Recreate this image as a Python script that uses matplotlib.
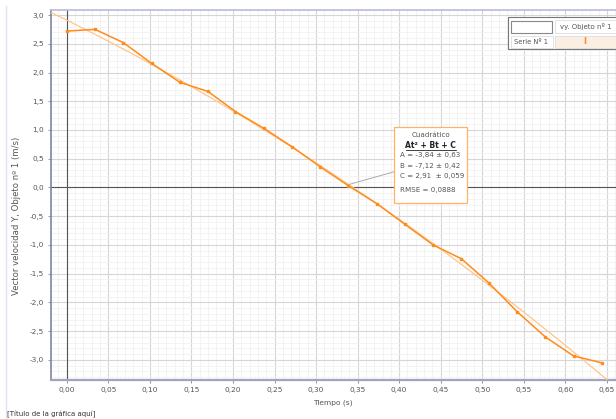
import numpy as np
import matplotlib
matplotlib.use('Agg')
import matplotlib.pyplot as plt
from matplotlib.ticker import MultipleLocator, FuncFormatter
from matplotlib.patches import Rectangle

tiempo = [0.000, 0.034, 0.068, 0.102, 0.136, 0.170, 0.203, 0.237, 0.271, 0.305,
          0.339, 0.373, 0.407, 0.441, 0.475, 0.508, 0.542, 0.576, 0.610, 0.644]
vy = [2.72, 2.75, 2.52, 2.16, 1.83, 1.67, 1.32, 1.03, 0.71, 0.36,
      0.03, -0.28, -0.64, -1.00, -1.24, -1.66, -2.16, -2.60, -2.93, -3.05]

# quadratic fit coefficients shown in the box
coef_a, coef_b, coef_c = -3.84, -7.12, 2.91
fit_lines = ["A = -3,84 \u00b1 0,63", "B = -7,12 \u00b1 0,42", "C = 2,91  \u00b1 0,059"]
rmse_text = "RMSE = 0,0888"

orange = '#ff8c1a'
light_orange = '#ffc58a'
grey_txt = '#555555'

fig = plt.figure(figsize=(6.16, 4.19), dpi=100)
ax = fig.add_axes([51 / 616, 1 - 380 / 419, 565 / 616, 370 / 419])

xmin, xmax = -0.019, 0.661
ymin, ymax = -3.348, 3.087
ax.set_xlim(xmin, xmax)
ax.set_ylim(ymin, ymax)

ax.xaxis.set_major_locator(MultipleLocator(0.05))
ax.xaxis.set_minor_locator(MultipleLocator(0.01))
ax.yaxis.set_major_locator(MultipleLocator(0.5))
ax.yaxis.set_minor_locator(MultipleLocator(0.1))
ax.xaxis.set_major_formatter(FuncFormatter(lambda v, p: f"{v:.2f}".replace('.', ',')))
ax.yaxis.set_major_formatter(FuncFormatter(lambda v, p: f"{v:.1f}".replace('.', ',').replace('-0,0', '0,0')))

ax.grid(which='major', color='#d6d6d6', lw=0.8)
ax.grid(which='minor', color='#f1f1f1', lw=0.6)
ax.set_axisbelow(True)
ax.tick_params(which='major', labelsize=5.3, labelcolor=grey_txt, color='#888888', length=2, width=0.6, pad=3)
ax.tick_params(which='minor', length=0)

ax.spines['right'].set_visible(False)
ax.spines['left'].set_color('#7f84a6')
ax.spines['bottom'].set_color('#9fa3bd')
ax.spines['top'].set_color('#b8bcd8')
ax.spines['left'].set_linewidth(1.2)
ax.spines['bottom'].set_linewidth(1.6)
ax.spines['top'].set_linewidth(1.2)

ax.axhline(0, color='#555555', lw=0.8, zorder=2)
ax.axvline(0, color='#555555', lw=0.8, zorder=2)

# fit curve
tt = np.linspace(xmin, xmax, 200)
ax.plot(tt, coef_a * tt ** 2 + coef_b * tt + coef_c, color=light_orange, lw=0.9, zorder=3)

# data series
ax.plot(tiempo, vy, color=orange, lw=1.1, marker='s', ms=1.8, zorder=4)

ax.set_xlabel('Tiempo (s)', fontsize=5.4, color=grey_txt)
ax.set_ylabel('Vector velocidad Y, Objeto n\u00ba 1 (m/s)', fontsize=6.1, color=grey_txt)
ax.xaxis.set_label_coords((333 - 51) / 565, -(403 - 380) / 370)
ax.yaxis.set_label_coords((17 - 51) / 565, (380 - 216) / 370)
ax.xaxis.label.set_va('center')
ax.yaxis.label.set_va('center')

# fit annotation box
bx0, bx1 = 0.394, 0.482
by_top, by_bot = 1.052, -0.27
ax.add_patch(Rectangle((bx0, by_bot), bx1 - bx0, by_top - by_bot, facecolor='white',
                       edgecolor='#ffb366', lw=0.9, zorder=6))
ax.plot([tiempo[10], bx0], [vy[10] + 0.02, 0.274], color='#aaaaaa', lw=0.7, zorder=5)
cx = (bx0 + bx1) / 2
ax.text(cx, 0.913, 'Cuadr\u00e1tico', fontsize=5.1, color=grey_txt, ha='center', va='center', zorder=7)
ax.text(cx, 0.727, 'At\u00b2 + Bt + C', fontsize=5.5, color='#222222', ha='center', va='center',
        fontweight='bold', zorder=7)
ax.plot([cx - 0.030, cx + 0.030], [0.655, 0.655], color='#222222', lw=0.6, zorder=7)
for i, line in enumerate(fit_lines):
    ax.text(0.4005, 0.565 - i * 0.183, line, fontsize=5.1, color=grey_txt,
            ha='left', va='center', zorder=7)
ax.text(0.4005, -0.043, rmse_text, fontsize=5.1, color=grey_txt, ha='left', va='center', zorder=7)

# legend table at top right
def fpx(x, y):
    return x / 616, 1 - y / 419

def cell(x0, y0, x1, y1, fc='white', ec='#cccccc', lw=0.6):
    (ax0, ay1), (ax1, ay0) = fpx(x0, y0), fpx(x1, y1)
    fig.add_artist(Rectangle((ax0, ay0), ax1 - ax0, ay1 - ay0, transform=fig.transFigure,
                             facecolor=fc, edgecolor=ec, lw=lw, zorder=10))

cell(508, 17, 617, 49, ec='#777777', lw=0.8)
cell(511, 21, 552, 33, ec='#888888', lw=0.8)
cell(555, 20, 617, 33, ec='#dddddd')
cell(511, 36, 553, 48, ec='#dddddd')
cell(555, 36, 617, 48, fc='#fbeee2', ec='#dddddd')
fig.text(*fpx(560, 27), 'vy. Objeto n\u00ba 1', fontsize=5.0, color=grey_txt, va='center', zorder=11)
fig.text(*fpx(531, 42), 'Serie N\u00ba 1', fontsize=4.9, color=grey_txt, va='center', ha='center', zorder=11)
fig.text(*fpx(585, 42), 'I', fontsize=6, color=orange, va='center', ha='center',
         fontweight='bold', zorder=11)

# panel border on the left and title placeholder
fig.add_artist(plt.Line2D([6 / 616, 6 / 616], [0.0, 1 - 6 / 419], transform=fig.transFigure,
                          color='#dfe3f5', lw=1.0))
fig.text(7 / 616, 1 - 414 / 419, '[T\u00edtulo de la gr\u00e1fica aqu\u00ed]', fontsize=5.0,
         color='#333333', va='center')

fig.savefig('out.png', dpi=100)
